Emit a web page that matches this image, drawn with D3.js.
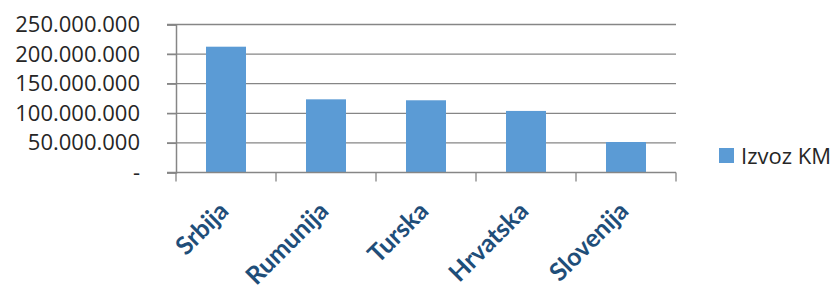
<!DOCTYPE html>
<html>
<head>
<meta charset="utf-8">
<script src="https://cdn.jsdelivr.net/npm/d3@7"></script>
<style>
  body { margin: 0; background: #fff; }
  text { font-family: "Open Sans", sans-serif; }
</style>
</head>
<body>
<script>
const WIDTH = 838;
const HEIGHT = 291;

const categories = ["Srbija", "Rumunija", "Turska", "Hrvatska", "Slovenija"];
const izvozKM = [212500000, 123600000, 122000000, 104000000, 51500000];
const yTicks = [0, 50000000, 100000000, 150000000, 200000000, 250000000];
const seriesName = "Izvoz KM";

const PLOT = { left: 176, right: 676, top: 24.5, bottom: 172.5 };

const svg = d3.select("body").append("svg")
  .attr("width", WIDTH)
  .attr("height", HEIGHT);

const x = d3.scaleBand()
  .domain(categories)
  .range([PLOT.left, PLOT.right])
  .paddingInner(0.6)
  .paddingOuter(0.3);

const y = d3.scaleLinear()
  .domain([0, 250000000])
  .range([PLOT.bottom, PLOT.top]);

const fmt = v => v === 0 ? "-" : d3.format(",")(v).replace(/,/g, ".");

// gridlines
svg.append("g")
  .selectAll("line")
  .data(yTicks.slice(1))
  .enter().append("line")
  .attr("x1", PLOT.left - 9)
  .attr("x2", PLOT.right)
  .attr("y1", d => y(d))
  .attr("y2", d => y(d))
  .attr("stroke", "#868686")
  .attr("stroke-width", 1.3);

// bars
svg.append("g")
  .selectAll("rect")
  .data(izvozKM)
  .enter().append("rect")
  .attr("x", (_, i) => x(categories[i]))
  .attr("width", x.bandwidth())
  .attr("y", d => y(d))
  .attr("height", d => y(0) - y(d))
  .attr("fill", "#5b9bd5");

// y axis
const yAxis = svg.append("g")
  .attr("transform", `translate(${PLOT.left},0)`)
  .call(d3.axisLeft(y).tickValues(yTicks).tickSize(9).tickPadding(27).tickFormat(fmt));
yAxis.select(".domain").attr("stroke", "#868686").attr("stroke-width", 1.5);
yAxis.selectAll(".tick line").attr("stroke", "#868686").attr("stroke-width", 1.3);
yAxis.selectAll(".tick text")
  .attr("fill", "#262626")
  .style("font-size", "22px")
  .style("font-family", "Open Sans");

// x axis baseline + ticks at category boundaries
const step = x.step();
const boundaries = d3.range(categories.length + 1).map(i => PLOT.left + i * step);
svg.append("line")
  .attr("x1", PLOT.left - 9).attr("x2", PLOT.right)
  .attr("y1", PLOT.bottom).attr("y2", PLOT.bottom)
  .attr("stroke", "#868686").attr("stroke-width", 1.5);
svg.append("g")
  .selectAll("line")
  .data(boundaries)
  .enter().append("line")
  .attr("x1", d => d).attr("x2", d => d)
  .attr("y1", PLOT.bottom).attr("y2", PLOT.bottom + 9)
  .attr("stroke", "#868686").attr("stroke-width", 1.3);

// category labels, rotated
svg.append("g")
  .selectAll("text")
  .data(categories)
  .enter().append("text")
  .attr("transform", d => `translate(${x(d) + x.bandwidth() / 2 + 4},${PLOT.bottom + 40}) rotate(-45)`)
  .attr("text-anchor", "end")
  .attr("fill", "#1f4e79")
  .style("font-family", "Lato")
  .style("font-size", "25px")
  .style("font-weight", "bold")
  .text(d => d);

// legend
const legend = svg.append("g").attr("transform", "translate(719,148)");
legend.append("rect")
  .attr("width", 15).attr("height", 15)
  .attr("fill", "#5b9bd5");
legend.append("text")
  .attr("x", 22).attr("y", 15.5)
  .attr("fill", "#262626")
  .style("font-size", "22px")
  .text(seriesName);
</script>
</body>
</html>
